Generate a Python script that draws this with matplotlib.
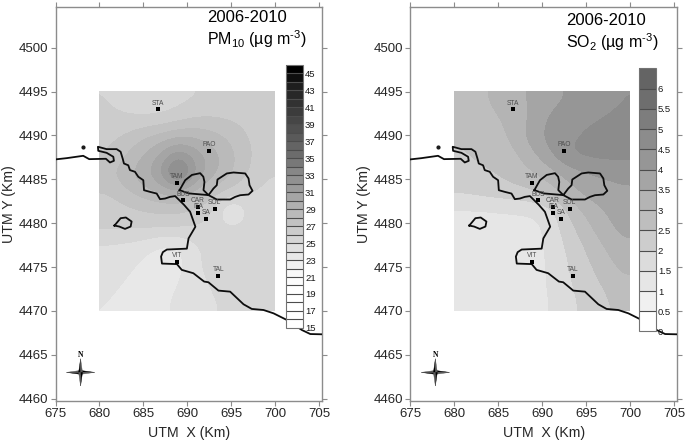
import numpy as np
import matplotlib
matplotlib.use("Agg")
import matplotlib.pyplot as plt
from matplotlib.colors import BoundaryNorm, ListedColormap
from matplotlib.cm import ScalarMappable

plt.rcParams['font.family'] = ['Liberation Sans', 'DejaVu Sans']
plt.rcParams['mathtext.default'] = 'regular'

# concentration, rows north to south, cells of 2 x 2.08 km
pm10 = [
    [26.0, 25.7, 25.3, 25.3, 25.7, 26.0, 26.1, 26.1, 26.0, 26.0],
    [26.2, 26.1, 26.1, 26.2, 26.6, 27.0, 27.1, 26.9, 26.6, 26.2],
    [26.7, 27.2, 27.9, 28.5, 29.0, 29.0, 28.4, 27.8, 27.0, 26.3],
    [27.0, 28.0, 29.0, 30.2, 32.0, 30.6, 29.5, 28.3, 27.2, 26.3],
    [27.8, 28.7, 29.8, 31.0, 35.2, 31.0, 29.3, 28.2, 27.0, 26.0],
    [27.0, 27.8, 28.6, 29.2, 29.6, 28.8, 27.6, 26.8, 26.0, 25.8],
    [26.4, 26.7, 27.0, 27.2, 27.2, 26.8, 26.0, 23.0, 25.4, 25.5],
    [26.3, 26.2, 26.1, 26.1, 26.0, 25.9, 25.5, 25.4, 25.4, 25.4],
    [24.7, 24.6, 24.4, 23.7, 23.7, 24.9, 25.3, 25.5, 25.5, 25.4],
    [24.7, 24.4, 23.8, 23.4, 23.6, 24.9, 25.4, 26.3, 25.6, 25.4],
    [24.5, 23.9, 23.4, 23.5, 24.0, 24.6, 25.2, 25.5, 25.4, 25.3],
    [24.0, 23.5, 23.3, 23.7, 24.3, 24.5, 24.9, 25.3, 25.3, 25.3],
]
so2 = [
    [2.70, 2.90, 3.15, 3.35, 3.60, 3.85, 4.05, 4.20, 4.35, 4.50],
    [2.65, 2.80, 2.95, 3.25, 3.60, 4.15, 4.25, 4.40, 4.52, 4.60],
    [2.55, 2.70, 2.85, 3.15, 3.85, 4.20, 4.40, 4.60, 4.70, 4.75],
    [2.45, 2.60, 2.75, 2.90, 3.40, 4.00, 4.55, 4.65, 4.70, 4.70],
    [2.30, 2.40, 2.50, 2.75, 2.95, 3.30, 3.70, 3.95, 4.05, 4.10],
    [2.10, 2.20, 2.30, 2.35, 2.50, 2.80, 3.30, 3.70, 3.85, 3.95],
    [1.45, 1.45, 1.50, 1.55, 1.60, 1.80, 2.60, 3.15, 3.50, 3.80],
    [1.25, 1.25, 1.25, 1.25, 1.30, 1.70, 2.30, 2.85, 3.30, 3.65],
    [1.25, 1.25, 1.20, 0.95, 1.30, 1.65, 2.10, 2.55, 3.00, 3.40],
    [1.25, 1.25, 1.25, 1.25, 1.25, 1.60, 2.00, 2.40, 2.75, 3.15],
    [1.25, 1.25, 1.25, 1.25, 1.25, 1.60, 1.95, 2.25, 2.55, 2.90],
    [1.20, 1.20, 1.20, 1.20, 1.20, 1.55, 1.85, 2.15, 2.40, 2.65],
]

pm_levels = list(range(15, 47))
pm_grays = [255, 255, 255, 255, 255, 252, 248, 240, 232, 224, 214, 204, 194, 186, 175, 165,
            155, 145, 135, 120, 108, 100, 90, 80, 70, 60, 50, 40, 30, 15, 0]
pm_ticks = list(range(15, 46, 2))

so2_levels = [0, 0.5, 1, 1.5, 2, 2.5, 3, 3.5, 4, 4.5, 5, 5.5, 6, 6.5]
so2_grays = [255, 240, 230, 220, 205, 190, 180, 165, 150, 140, 125, 110, 100]
so2_ticks = [0, 0.5, 1, 1.5, 2, 2.5, 3, 3.5, 4, 4.5, 5, 5.5, 6]
so2_tick_labels = ['0', '0.5', '1', '1.5', '2', '2.5', '3', '3.5', '4', '4.5', '5', '5.5', '6']

stations = ['STA', 'PAO', 'TAM', 'BUS', 'CAR', 'ITA', 'SA', 'SOL', 'VIT', 'TAL']
station_x = [686.65, 692.5, 688.8, 689.5, 691.2, 691.2, 692.1, 693.1, 688.8, 693.5]
station_y = [4492.97, 4488.2, 4484.6, 4482.6, 4481.9, 4481.2, 4480.5, 4481.6, 4475.6, 4474.0]

coast_x = [674.9, 676.25, 678.15, 678.83, 680.73, 681.19, 681.64, 681.57, 680.81, 679.86, 679.82, 680.81,
           681.95, 682.4, 682.63, 682.78, 683.27, 683.46, 684.03, 684.41, 684.98, 685.06, 685.74, 686.5,
           686.88, 687.45, 688.02, 688.6,
           689.6, 690.3, 690.9, 690.12, 689.93, 687.66, 687.2, 687.0, 687.1, 688.8, 689.35, 690.67, 691.89, 692.38,
           693.52, 694.85, 696.37, 697.31, 698.64, 699.78, 701.3, 703.0, 703.96, 705.3]
coast_y = [4487.26, 4487.41, 4487.68, 4487.3, 4487.34, 4486.92, 4487.11, 4487.57, 4488.02, 4488.25, 4488.71, 4488.44,
           4488.44, 4488.14, 4487.38, 4486.8, 4486.6, 4486.05, 4485.86, 4485.29, 4484.9, 4483.76, 4483.57, 4483.38,
           4482.74, 4482.81, 4483.0, 4483.09,
           4482.1, 4481.3, 4479.6, 4478.27, 4477.1, 4477.0, 4476.7, 4476.2, 4475.4, 4475.34, 4474.68, 4474.3, 4473.35, 4473.27,
           4472.32, 4472.2, 4470.76, 4470.23, 4470.11, 4469.73, 4468.97, 4467.83, 4467.37, 4467.34]
# Mar Piccolo, the two inner lobes
lagoon_x = [689.1, 689.74, 690.5, 691.44, 691.8, 691.93, 691.82, 692.39, 692.95, 693.33, 693.41, 694.47, 695.23, 696.56,
            696.94, 697.05, 697.39, 696.94, 695.99, 695.42, 694.85, 693.33, 692.39, 690.11, 689.1]
lagoon_y = [4483.77, 4484.9, 4485.5, 4485.7, 4485.3, 4484.7, 4483.77, 4483.2, 4483.95, 4484.33, 4484.98, 4485.67, 4485.78, 4485.67,
            4485.1, 4484.33, 4483.69, 4483.27, 4483.19, 4483.0, 4482.7, 4482.7, 4483.2, 4483.4, 4483.77]
island_x = [681.7, 682.4, 683.0, 683.65, 683.54, 682.9, 682.25, 681.7]
island_y = [4479.73, 4480.57, 4480.65, 4480.19, 4479.62, 4479.35, 4479.62, 4479.73]

W, H = 685, 442
fig = plt.figure(figsize=(W / 100, H / 100), dpi=100)
edge = '0.55'
txt = '0.15'


def compass(ax, cx, cy):
    # four thin spikes, half black half grey
    for dx, dy in [(1, 0), (-1, 0), (0, 1), (0, -1)]:
        tip = (cx + dx * 1.6, cy + dy * 1.55)
        px, py = -dy * 0.22, dx * 0.22
        ax.fill([cx, cx + px, tip[0]], [cy, cy + py, tip[1]], color='k', lw=0.3, zorder=6)
        ax.fill([cx, cx - px, tip[0]], [cy, cy - py, tip[1]], color='0.35', lw=0.3, zorder=6)
    ax.text(cx + 0.05, cy + 2.0, 'N', family='Liberation Serif', weight='bold', fontsize=5.5,
            ha='center', va='center', color='k')


def panel(left, data, levels, grays, ticks, ticklabels, bar, title, title_x, title_y):
    ax = fig.add_axes([left / W, 1 - 401 / H, 266.6 / W, 394.3 / H])
    cmap = ListedColormap([(g / 255, g / 255, g / 255) for g in grays])
    norm = BoundaryNorm(levels, cmap.N)
    ax.imshow(data, extent=[680, 700, 4470, 4495], cmap=cmap, norm=norm, aspect='auto',
              interpolation='bicubic', interpolation_stage='data', zorder=1)
    ax.plot(coast_x, coast_y, color='0.05', lw=1.3, zorder=3, solid_joinstyle='round')
    ax.plot(lagoon_x, lagoon_y, color='0.05', lw=1.3, zorder=3, solid_joinstyle='round')
    ax.plot(island_x, island_y, color='0.05', lw=1.3, zorder=3)
    ax.plot([678.1], [4488.65], marker='o', ms=2, color='0.1', zorder=3)
    ax.scatter(station_x, station_y, marker='s', s=7, color='k', zorder=4, linewidths=0)
    for s, x, y in zip(stations, station_x, station_y):
        ax.annotate(s, (x, y), xytext=(0, 2), textcoords='offset points', ha='center', va='bottom',
                    fontsize=4.8, color='0.3', zorder=5)
    compass(ax, 677.85, 4463)

    ax.set_xlim(675, 705.3)
    ax.set_ylim(4459.74, 4504.67)
    ax.set_xticks(range(675, 706, 5))
    ax.set_yticks(range(4460, 4501, 5))
    ax.tick_params(direction='out', length=3.5, width=0.8, color=edge, top=True, right=True,
                   labelsize=9.5, labelcolor=txt, pad=1.5)
    for sp in ax.spines.values():
        sp.set_color(edge)
        sp.set_linewidth(1.0)
    ax.set_xlabel('UTM  X (Km)', fontsize=10.2, color=txt, va='center')
    ax.xaxis.set_label_coords(0.5, -0.08)
    ax.set_ylabel('UTM Y (Km)', fontsize=10.2, color=txt, va='center')
    ax.yaxis.set_label_coords(-0.175, 0.5)

    ax.text(title_x, title_y, '2006-2010', fontsize=12, color='k', va='center')
    ax.text(title_x, title_y - 2.45, title, fontsize=11.5, color='k', va='center')

    cax = ax.inset_axes(bar, transform=ax.transData, zorder=7)
    cb = fig.colorbar(ScalarMappable(norm=norm, cmap=cmap), cax=cax, drawedges=True,
                      ticks=ticks, spacing='proportional')
    cb.ax.set_yticklabels(ticklabels)
    cb.ax.tick_params(which='both', length=0, labelsize=6.8, labelcolor='0.1', pad=1.5)
    cb.dividers.set_color('0.3')
    cb.dividers.set_linewidth(0.8)
    cb.outline.set_edgecolor('0.45')
    cb.outline.set_linewidth(0.8)


panel(55.5, pm10, pm_levels, pm_grays, pm_ticks, [str(t) for t in pm_ticks],
      [701.2, 4468.07, 1.93, 29.96], 'PM$_{10}$ (µg m$^{\u20103}$)', 692.2, 4503.4)
panel(410.3, so2, so2_levels, so2_grays, so2_ticks, so2_tick_labels,
      [701.0, 4467.66, 1.9, 29.99], 'SO$_{2}$ (µg m$^{\u20103}$)', 692.66, 4503.05)

fig.savefig('out.png', dpi=100)
